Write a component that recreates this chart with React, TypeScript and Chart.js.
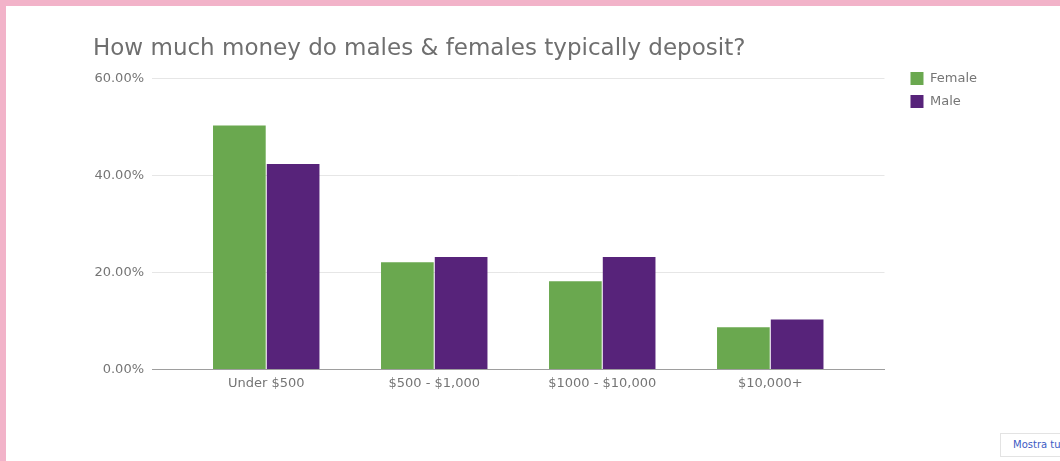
import React, { useEffect, useRef } from "react";
import { Chart, registerables } from "chart.js";

Chart.register(...registerables);

const categories = ["Under $500", "$500 - $1,000", "$1000 - $10,000", "$10,000+"];
const femaleValues = [50.3, 22.1, 18.2, 8.7];
const maleValues = [42.4, 23.2, 23.2, 10.3];
const yTickValues = [0, 20, 40, 60];
const seriesNames = ["Female", "Male"];
const titleText = "How much money do males & females typically deposit?";

const FONT = "'DejaVu Sans', sans-serif";

const legendShift = {
  id: "legendShift",
  afterLayout(chart: any) {
    const lg = chart.legend;
    if (lg) {
      lg.left += 16;
      lg.right += 16;
      const h = lg.bottom - lg.top;
      lg.top = 62;
      lg.bottom = 62 + h;
    }
  },
};

export default function App() {
  const canvasRef = useRef<HTMLCanvasElement | null>(null);

  useEffect(() => {
    if (!canvasRef.current) return;
    const chart = new Chart(canvasRef.current, {
      type: "bar",
      data: {
        datasets: [
          {
            label: seriesNames[0],
            data: femaleValues.map((y, i) => ({ x: i, y })),
            backgroundColor: "#6aa84f",
            borderWidth: 0,
          },
          {
            label: seriesNames[1],
            data: maleValues.map((y, i) => ({ x: i, y })),
            backgroundColor: "#57237a",
            borderWidth: 0,
          },
        ],
      },
      options: {
        animation: false,
        responsive: true,
        maintainAspectRatio: false,
        categoryPercentage: 0.64,
        barPercentage: 0.98,
        layout: { padding: { left: 93, top: 35, right: 89, bottom: 64 } },
        plugins: {
          title: {
            display: true,
            text: titleText,
            align: "start",
            color: "#6f6f6f",
            font: { family: FONT, size: 23, weight: "normal" },
            padding: { top: 0, bottom: 16 },
          },
          legend: {
            position: "right",
            align: "start",
            labels: {
              boxWidth: 13,
              boxHeight: 13,
              padding: 10,
              color: "#757575",
              font: { family: FONT, size: 13 },
            },
          },
          tooltip: { enabled: false },
        },
        scales: {
          x: {
            type: "linear",
            offset: false,
            min: -0.68,
            max: 3.68,
            afterBuildTicks: (scale: any) => {
              scale.ticks = categories.map((_, i) => ({ value: i }));
            },
            ticks: {
              callback: (v: any) => categories[v as number] ?? "",
              color: "#757575",
              font: { family: FONT, size: 13 },
              maxRotation: 0,
              autoSkip: false,
              padding: 6,
            },
            grid: { display: false, drawTicks: false, offset: false },
            border: { display: true, color: "#9e9e9e", width: 1 },
          },
          y: {
            min: 0,
            max: 60,
            afterBuildTicks: (scale: any) => {
              scale.ticks = yTickValues.map((v) => ({ value: v }));
            },
            afterFit: (scale: any) => {
              scale.width = 59;
            },
            ticks: {
              callback: (v: any) => Number(v).toFixed(2) + "%",
              color: "#757575",
              font: { family: FONT, size: 13 },
              padding: 8,
            },
            grid: {
              drawTicks: false,
              color: (ctx: any) => (ctx.tick && ctx.tick.value === 0 ? "#9e9e9e" : "#e6e6e6"),
            },
            border: { display: false },
          },
        },
      },
      plugins: [legendShift],
    });
    return () => chart.destroy();
  }, []);

  return (
    <div
      style={{
        position: "absolute",
        left: 0,
        top: 0,
        width: 1060,
        height: 461,
        overflow: "hidden",
        background: "#ffffff",
      }}
    >
      <div style={{ position: "absolute", left: 0, top: 0, width: 1060, height: 461 }}>
        <canvas ref={canvasRef} />
      </div>
      <div style={{ position: "absolute", left: 0, top: 0, width: 1060, height: 6, background: "#f2b3c9" }} />
      <div style={{ position: "absolute", left: 0, top: 0, width: 6, height: 461, background: "#f2b3c9" }} />
      <div
        style={{
          position: "absolute",
          left: 1000,
          top: 433,
          width: 80,
          height: 24,
          border: "1px solid #e3e3e3",
          boxSizing: "border-box",
          fontFamily: FONT,
          fontSize: 10,
          color: "#3d5bc4",
          lineHeight: "22px",
          paddingLeft: 12,
          background: "#fff",
          whiteSpace: "nowrap",
        }}
      >
        Mostra tutto
      </div>
    </div>
  );
}
